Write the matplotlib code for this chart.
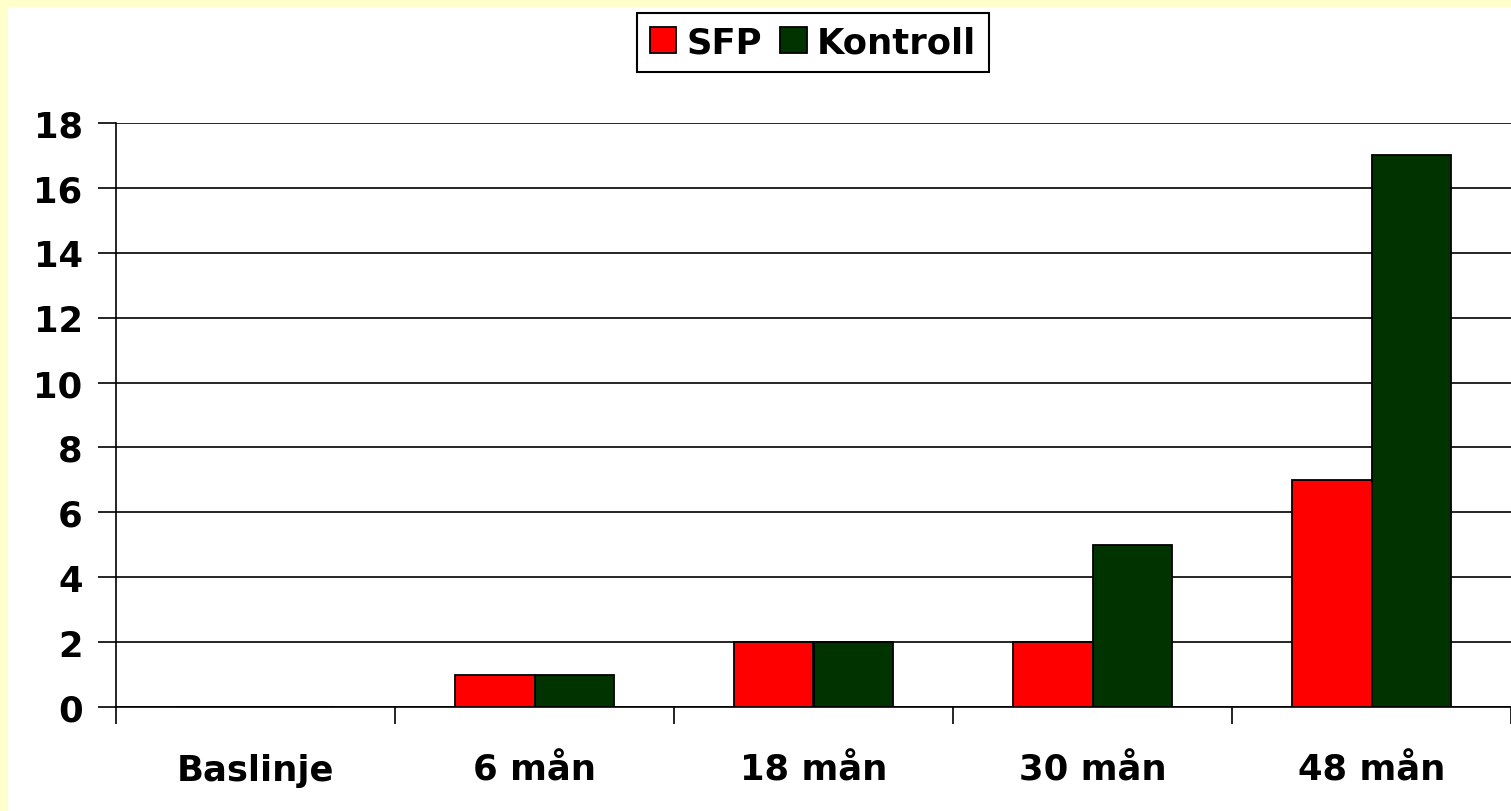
import matplotlib.pyplot as plt
import numpy as np
from matplotlib.patches import Rectangle

plt.rcParams['font.family'] = ['DejaVu Sans']
plt.rcParams['font.weight'] = 'bold'

categories = ['Baslinje', '6 mån', '18 mån', '30 mån', '48 mån']
sfp = [0, 1, 2, 2, 7]
kontroll = [0, 1, 2, 5, 17]
yticks = np.arange(0, 19, 2)

fig = plt.figure(figsize=(15.11, 8.12), dpi=100, facecolor='#FFFFCC')
# white panel inside the yellow frame
fig.patches.append(Rectangle((8 / 1511, 0), 1, 1 - 8 / 812, transform=fig.transFigure,
                             facecolor='white', edgecolor='none', zorder=-10))

ax = fig.add_axes([116 / 1511, 1 - 708 / 812, 1 - 116 / 1511, (708 - 124) / 812])
ax.set_facecolor('white')

x = np.arange(len(categories))
w = 0.2865
ax.bar(x - w / 2, sfp, w, color='#FF0000', edgecolor='black', linewidth=1.3, label='SFP', zorder=3)
ax.bar(x + w / 2, kontroll, w, color='#003300', edgecolor='black', linewidth=1.3, label='Kontroll', zorder=3)

ax.set_xlim(-0.5, len(categories) - 0.5)
ax.set_ylim(0, 18)
ax.set_yticks(yticks)
ax.yaxis.grid(True, color='black', linewidth=1.2, zorder=0)
ax.set_axisbelow(True)

ax.set_xticks(x)
ax.set_xticklabels(categories)
ax.set_xticks(np.arange(-0.5, len(categories), 1), minor=True)
ax.tick_params(axis='x', which='major', length=0, pad=33, labelsize=25.5)
ax.tick_params(axis='x', which='minor', length=12, width=1.2, direction='out')
ax.tick_params(axis='y', length=13, width=1.2, direction='out', pad=11, labelsize=25.5)

for s in ['top', 'right']:
    ax.spines[s].set_visible(False)
ax.spines['left'].set_linewidth(1.2)
ax.spines['bottom'].set_linewidth(1.2)

leg = fig.legend(loc='center', bbox_to_anchor=(813 / 1511, 1 - 43.5 / 812), ncol=2,
                 fontsize=25.5, handlelength=0.75, handleheight=0.75, handletextpad=0.3,
                 columnspacing=0.5, borderpad=0.35, fancybox=False, framealpha=1,
                 edgecolor='black')
leg.get_frame().set_linewidth(1.5)

fig.savefig('out.png', dpi=100, facecolor=fig.get_facecolor())
